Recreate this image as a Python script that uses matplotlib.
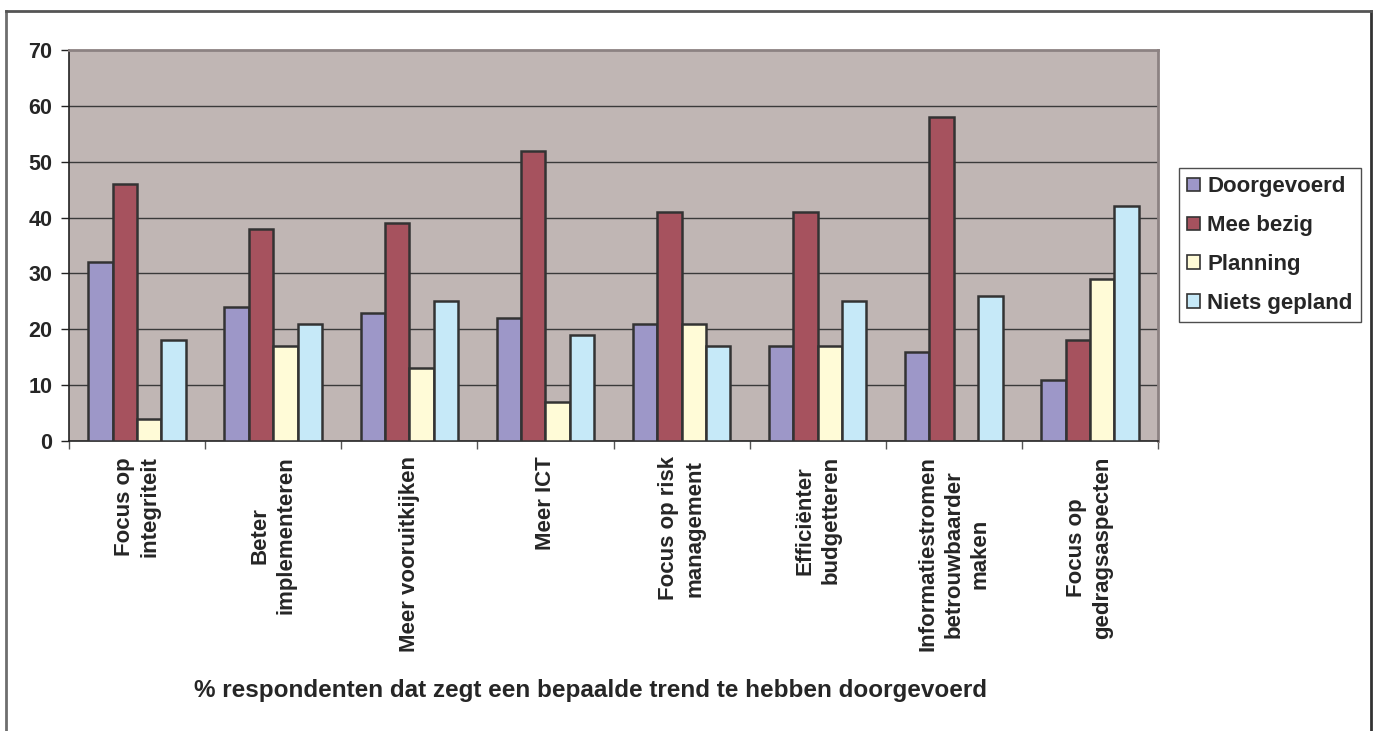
import matplotlib
matplotlib.use("Agg")
import matplotlib.pyplot as plt
import numpy as np
from matplotlib.patches import Patch
from matplotlib.lines import Line2D

# Survey results per trend (% of respondents)
categories = [
    "Focus op\nintegriteit",
    "Beter\nimplementeren",
    "Meer vooruitkijken",
    "Meer ICT",
    "Focus op risk\nmanagement",
    "Efficiënter\nbudgetteren",
    "Informatiestromen\nbetrouwbaarder\nmaken",
    "Focus op\ngedragsaspecten",
]
series_names = ["Doorgevoerd", "Mee bezig", "Planning", "Niets gepland"]
doorgevoerd = [32, 24, 23, 22, 21, 17, 16, 11]
mee_bezig = [46, 38, 39, 52, 41, 41, 58, 18]
planning = [4, 17, 13, 7, 21, 17, 0, 29]
niets_gepland = [18, 21, 25, 19, 17, 25, 26, 42]
yticks = [0, 10, 20, 30, 40, 50, 60, 70]
xlabel = "% respondenten dat zegt een bepaalde trend te hebben doorgevoerd"

colors = ["#9D97C8", "#A6525E", "#FFFBD7", "#C6E9F8"]
edge = "#333333"
text_color = "#262626"
font = "Liberation Sans"

W, H = 1377, 731
fig = plt.figure(figsize=(W / 100, H / 100), dpi=100)
fig.patch.set_facecolor("white")

# plot area in pixel coordinates
left, right, top, bottom = 69, 1158, 50, 441
ax = fig.add_axes([left / W, 1 - bottom / H, (right - left) / W, (bottom - top) / H])
ax.set_facecolor("#C0B6B4")

values = [doorgevoerd, mee_bezig, planning, niets_gepland]
x = np.arange(len(categories))
bw = 0.179
for i, (vals, c, name) in enumerate(zip(values, colors, series_names)):
    ax.bar(x + (i - 1.5) * bw, vals, width=bw, color=c, edgecolor=edge,
           linewidth=1.8, zorder=3, label=name)

ax.set_xlim(-0.5, len(categories) - 0.5)
ax.set_ylim(0, 70)
ax.set_yticks(yticks)
ax.set_yticklabels([str(v) for v in yticks], fontsize=15.5, fontweight="bold",
                   color=text_color, family=font)
for v in yticks[1:-1]:
    ax.axhline(v, color="#3A3A3A", linewidth=1.0, zorder=1)

# category boundaries as tick marks
ax.set_xticks(np.arange(-0.5, len(categories) + 0.5, 1.0))
ax.set_xticklabels([])
ax.tick_params(axis="x", direction="out", length=6, width=1, color="#555555")
ax.tick_params(axis="y", direction="out", length=6, width=1, color="#222222", pad=6)

for s in ["top", "right"]:
    ax.spines[s].set_color("#8C8282")
    ax.spines[s].set_linewidth(2)
for s in ["left", "bottom"]:
    ax.spines[s].set_color("#222222")
    ax.spines[s].set_linewidth(1.2)

# rotated category labels under each group
for xi, lab in zip(x, categories):
    ax.annotate(lab, xy=(xi, 0), xycoords=("data", "axes fraction"),
                xytext=(0, -11), textcoords="offset points",
                rotation=90, ha="center", va="top", multialignment="center",
                fontsize=16, fontweight="bold", color=text_color, family=font,
                linespacing=1.32)

fig.text(591 / W, 1 - 690 / H, xlabel, ha="center", va="center",
         fontsize=17.5, fontweight="bold", color=text_color, family=font)

handles = [Patch(facecolor=c, edgecolor=edge, linewidth=1.2) for c in colors]
leg = fig.legend(handles, series_names, loc="upper left",
                 bbox_to_anchor=(1179 / W, 1 - 168 / H), borderaxespad=0,
                 fancybox=False, frameon=True, handlelength=0.55, handleheight=0.55,
                 handletextpad=0.35, labelspacing=0.8, borderpad=0.38,
                 prop={"family": font, "weight": "bold", "size": 16})
leg.get_frame().set_edgecolor("#222222")
leg.get_frame().set_linewidth(1.0)
for t in leg.get_texts():
    t.set_color(text_color)

# outer chart border
fig.add_artist(Line2D([6 / W, 6 / W], [0, 1 - 11 / H], transform=fig.transFigure,
                      color="#6E6E6E", linewidth=2))
fig.add_artist(Line2D([1371 / W, 1371 / W], [0, 1 - 11 / H], transform=fig.transFigure,
                      color="#333333", linewidth=2))
fig.add_artist(Line2D([6 / W, 1371 / W], [1 - 11 / H, 1 - 11 / H], transform=fig.transFigure,
                      color="#555555", linewidth=2))

fig.savefig("out.png", dpi=100)
